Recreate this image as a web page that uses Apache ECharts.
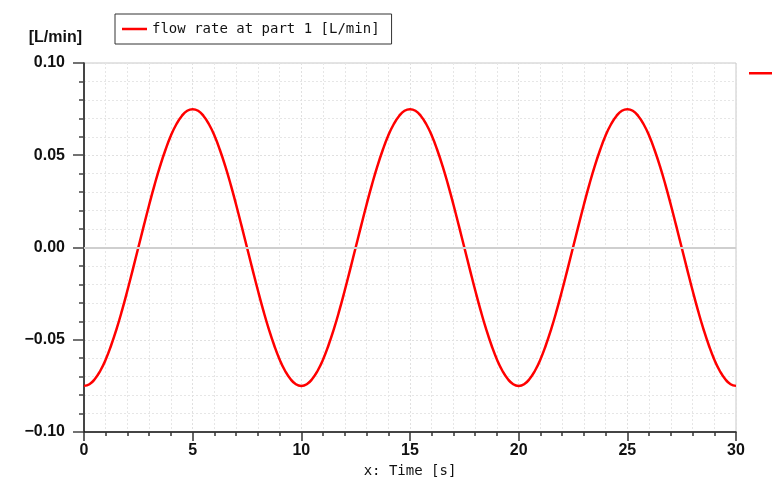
<!DOCTYPE html>
<html>
<head>
<meta charset="utf-8">
<script src="https://cdn.jsdelivr.net/npm/echarts@6/dist/echarts.min.js"></script>
<style>html,body{margin:0;padding:0;background:#fff;}#c{width:783px;height:491px;}</style>
</head>
<body>
<div id="c"></div>
<script>
// Time samples [s] and read values [L/min]
const timeValues = [
  0, 0.25, 0.5, 0.75, 1, 1.25, 1.5, 1.75, 2, 2.25, 2.5, 2.75, 3, 3.25, 3.5, 3.75, 4, 4.25, 4.5, 4.75,
  5, 5.25, 5.5, 5.75, 6, 6.25, 6.5, 6.75, 7, 7.25, 7.5, 7.75, 8, 8.25, 8.5, 8.75, 9, 9.25, 9.5, 9.75,
  10, 10.25, 10.5, 10.75, 11, 11.25, 11.5, 11.75, 12, 12.25, 12.5, 12.75, 13, 13.25, 13.5, 13.75, 14, 14.25, 14.5, 14.75,
  15, 15.25, 15.5, 15.75, 16, 16.25, 16.5, 16.75, 17, 17.25, 17.5, 17.75, 18, 18.25, 18.5, 18.75, 19, 19.25, 19.5, 19.75,
  20, 20.25, 20.5, 20.75, 21, 21.25, 21.5, 21.75, 22, 22.25, 22.5, 22.75, 23, 23.25, 23.5, 23.75, 24, 24.25, 24.5, 24.75,
  25, 25.25, 25.5, 25.75, 26, 26.25, 26.5, 26.75, 27, 27.25, 27.5, 27.75, 28, 28.25, 28.5, 28.75, 29, 29.25, 29.5, 29.75,
  30
];
const flowValues = [
  -0.075, -0.0741, -0.0713, -0.0668, -0.0607, -0.0530, -0.0441, -0.0341, -0.0232, -0.0117,
  0.0, 0.0117, 0.0232, 0.0341, 0.0441, 0.0530, 0.0607, 0.0668, 0.0713, 0.0741,
  0.075, 0.0741, 0.0713, 0.0668, 0.0607, 0.0530, 0.0441, 0.0341, 0.0232, 0.0117,
  0.0, -0.0117, -0.0232, -0.0341, -0.0441, -0.0530, -0.0607, -0.0668, -0.0713, -0.0741,
  -0.075, -0.0741, -0.0713, -0.0668, -0.0607, -0.0530, -0.0441, -0.0341, -0.0232, -0.0117,
  0.0, 0.0117, 0.0232, 0.0341, 0.0441, 0.0530, 0.0607, 0.0668, 0.0713, 0.0741,
  0.075, 0.0741, 0.0713, 0.0668, 0.0607, 0.0530, 0.0441, 0.0341, 0.0232, 0.0117,
  0.0, -0.0117, -0.0232, -0.0341, -0.0441, -0.0530, -0.0607, -0.0668, -0.0713, -0.0741,
  -0.075, -0.0741, -0.0713, -0.0668, -0.0607, -0.0530, -0.0441, -0.0341, -0.0232, -0.0117,
  0.0, 0.0117, 0.0232, 0.0341, 0.0441, 0.0530, 0.0607, 0.0668, 0.0713, 0.0741,
  0.075, 0.0741, 0.0713, 0.0668, 0.0607, 0.0530, 0.0441, 0.0341, 0.0232, 0.0117,
  0.0, -0.0117, -0.0232, -0.0341, -0.0441, -0.0530, -0.0607, -0.0668, -0.0713, -0.0741,
  -0.075
];
const seriesName = 'flow rate at part 1 [L/min]';
const xAxisName = 'x: Time [s]';
const yAxisName = '[L/min]';

const chart = echarts.init(document.getElementById('c'));
const labelFont = { fontFamily: 'Liberation Sans', fontWeight: 'bold', fontSize: 16, color: '#111' };
chart.setOption({
  backgroundColor: '#fff',
  animation: false,
  grid: { left: 84, right: 47, top: 63, bottom: 59, show: true, borderColor: '#c8c8c8', borderWidth: 1, backgroundColor: 'transparent' },
  legend: [
    {
      data: [seriesName], left: 115, top: 14, selectedMode: false,
      borderColor: '#333', borderWidth: 1, padding: [8, 12, 8, 7],
      icon: 'rect', itemWidth: 25, itemHeight: 2.5,
      textStyle: { fontFamily: 'DejaVu Sans Mono', fontSize: 14, color: '#111', lineHeight: 14 }
    },
    {
      data: [seriesName], left: 749, top: 72, selectedMode: false,
      padding: 0, icon: 'rect', itemWidth: 23, itemHeight: 2.5,
      formatter: function () { return ''; }
    }
  ],
  xAxis: {
    type: 'value', min: 0, max: 30, interval: 5,
    name: xAxisName, nameLocation: 'middle', nameGap: 32,
    nameTextStyle: { fontFamily: 'DejaVu Sans Mono', fontSize: 14, color: '#111' },
    axisLine: { show: true, onZero: false, lineStyle: { color: '#111', width: 1.5 } },
    axisTick: { show: true, length: 9, lineStyle: { color: '#333', width: 1.5 } },
    minorTick: { show: true, splitNumber: 5, length: 4, lineStyle: { color: '#333', width: 1.5 } },
    axisLabel: Object.assign({ margin: 11 }, labelFont),
    splitLine: { show: true, lineStyle: { color: '#e0e0e0', type: [2, 2], width: 1 } },
    minorSplitLine: { show: true, lineStyle: { color: '#e6e6e6', type: [2, 2], width: 1 } }
  },
  yAxis: {
    type: 'value', min: -0.1, max: 0.1, interval: 0.05,
    name: yAxisName, nameLocation: 'end', nameGap: 17,
    nameTextStyle: Object.assign({ align: 'right', padding: [0, 2, 0, 0] }, labelFont),
    axisLine: { show: true, onZero: false, lineStyle: { color: '#111', width: 1.5 } },
    axisTick: { show: true, length: 11, lineStyle: { color: '#444', width: 1.5 } },
    minorTick: { show: true, splitNumber: 5, length: 5, lineStyle: { color: '#444', width: 1.5 } },
    axisLabel: Object.assign({
      margin: 19,
      formatter: function (v) { const s = Math.abs(v).toFixed(2); return v < -1e-9 ? '\u2212' + s : s; }
    }, labelFont),
    splitLine: { show: true, lineStyle: { color: '#e0e0e0', type: [2, 2], width: 1 } },
    minorSplitLine: { show: true, lineStyle: { color: '#e6e6e6', type: [2, 2], width: 1 } }
  },
  series: [
    {
      name: seriesName, type: 'line', smooth: true, symbol: 'none', showSymbol: false,
      data: timeValues.map((t, i) => [t, flowValues[i]]),
      lineStyle: { color: '#ff0000', width: 2.5 },
      itemStyle: { color: '#ff0000' },
      markLine: {
        silent: true, symbol: 'none', label: { show: false },
        lineStyle: { color: '#cfcfcf', type: 'solid', width: 2 },
        data: [{ yAxis: 0 }]
      }
    }
  ]
});
</script>
</body>
</html>
